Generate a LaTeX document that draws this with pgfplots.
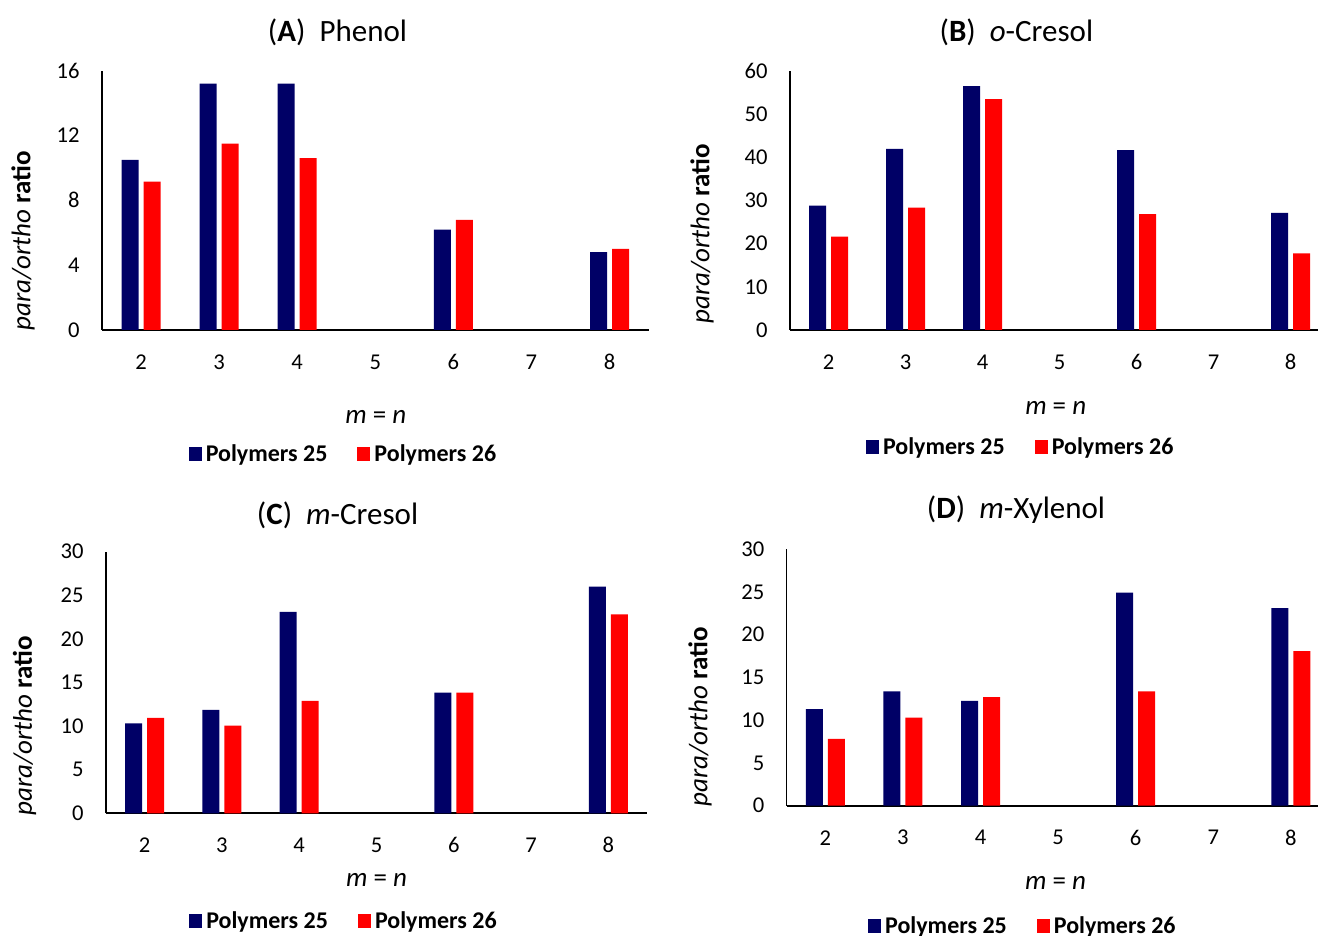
\documentclass[border=0pt]{standalone}
\usepackage{fontspec}
\setmainfont{Carlito}
\usepackage{pgfplots}
\pgfplotsset{compat=1.18}
\definecolor{navy}{RGB}{0,0,102}
\definecolor{pred}{RGB}{255,0,0}
\pgfplotsset{
  panel/.style={
    scale only axis,
    anchor=south west,
    ybar=2.5pt, bar width=8.5pt,
    xmin=1.5, xmax=8.5, ymin=0,
    xtick={2,3,4,5,6,7,8},
    axis lines=left,
    axis line style={-},
    x axis line style={line width=1pt, black},
    y axis line style={line width=0.6pt, black},
    major tick length=0pt,
    tick style={draw=none},
    /pgf/number format/assume math mode=true,
    ticklabel style={font=\fontsize{11.3}{13}\selectfont, text=black},
    xticklabel style={anchor=center, yshift=-16pt},
    yticklabel style={anchor=east, inner sep=0pt, xshift=-11pt},
    label style={font=\fontsize{13.5}{16}\selectfont},
    title style={font=\fontsize{15.5}{18}\selectfont, anchor=center},
    legend columns=2,
    legend style={draw=none, fill=none, font=\bfseries\fontsize{12}{14}\selectfont, anchor=center,
      /tikz/every even column/.append style={column sep=13pt}},
    legend image code/.code={\fill[##1] (0pt,-3.2pt) rectangle (6.5pt,3.8pt);},
    ylabel={\textit{para/ortho} \textbf{ratio}},
    xlabel={\textit{m} = \textit{n}},
  }
}
\begin{document}
\begin{tikzpicture}
\path[use as bounding box] (0,0) rectangle (659pt,468pt);
% (A)
\begin{axis}[panel, at={(51pt,303pt)}, width=273.3pt, height=129.65pt,
  ymax=16, ytick={0,4,8,12,16},
  title={(\textbf{A})\ \ Phenol}, title style={at={(axis description cs:0.4308,1.1027)}},
  xlabel style={at={(axis description cs:0.501,-0.3355)}, anchor=center},
  ylabel style={at={(axis description cs:-0.1445,0.343)}, anchor=center},
  legend style={at={(axis description cs:0.4436,-0.482)}}]
\addplot[fill=navy, draw=none] coordinates {(2,10.5) (3,15.2) (4,15.2) (6,6.2) (8,4.8)};
\addplot[fill=pred, draw=none] coordinates {(2,9.15) (3,11.5) (4,10.6) (6,6.8) (8,5.0)};
\legend{Polymers 25, Polymers 26}
\end{axis}
% (B)
\begin{axis}[panel, at={(395pt,303pt)}, width=269.5pt, height=129.65pt,
  ymax=60, ytick={0,10,...,60},
  title={(\textbf{B})\ \ \textit{o}-Cresol}, title style={at={(axis description cs:0.420,1.1027)}},
  xlabel style={at={(axis description cs:0.493,-0.301)}, anchor=center},
  ylabel style={at={(axis description cs:-0.163,0.370)}, anchor=center},
  legend style={at={(axis description cs:0.430,-0.455)}}]
\addplot[fill=navy, draw=none] coordinates {(2,28.8) (3,41.9) (4,56.4) (6,41.6) (8,27.1)};
\addplot[fill=pred, draw=none] coordinates {(2,21.6) (3,28.3) (4,53.4) (6,26.8) (8,17.7)};
\legend{Polymers 25, Polymers 26}
\end{axis}
% (C)
\begin{axis}[panel, at={(53pt,61.35pt)}, width=270.5pt, height=130.8pt,
  ymax=30, ytick={0,5,...,30},
  title={(\textbf{C})\ \ \textit{m}-Cresol}, title style={at={(axis description cs:0.428,1.094)}},
  xlabel style={at={(axis description cs:0.5,-0.255)}, anchor=center},
  ylabel style={at={(axis description cs:-0.1506,0.334)}, anchor=center},
  legend style={at={(axis description cs:0.4418,-0.414)}}]
\addplot[fill=navy, draw=none] coordinates {(2,10.3) (3,11.85) (4,23.1) (6,13.85) (8,26.0)};
\addplot[fill=pred, draw=none] coordinates {(2,10.95) (3,10.05) (4,12.9) (6,13.85) (8,22.8)};
\legend{Polymers 25, Polymers 26}
\end{axis}
% (D)
\begin{axis}[panel, at={(393.3pt,65.15pt)}, width=271.5pt, height=128.35pt,
  ymax=30, ytick={0,5,...,30},
  title={(\textbf{D})\ \ \textit{m}-Xylenol}, title style={at={(axis description cs:0.4225,1.105)}},
  xlabel style={at={(axis description cs:0.4954,-0.301)}, anchor=center},
  ylabel style={at={(axis description cs:-0.1595,0.3455)}, anchor=center},
  legend style={at={(axis description cs:0.437,-0.4725)}}]
\addplot[fill=navy, draw=none] coordinates {(2,11.3) (3,13.35) (4,12.25) (6,24.9) (8,23.1)};
\addplot[fill=pred, draw=none] coordinates {(2,7.8) (3,10.3) (4,12.7) (6,13.35) (8,18.05)};
\legend{Polymers 25, Polymers 26}
\end{axis}
\end{tikzpicture}
\end{document}
